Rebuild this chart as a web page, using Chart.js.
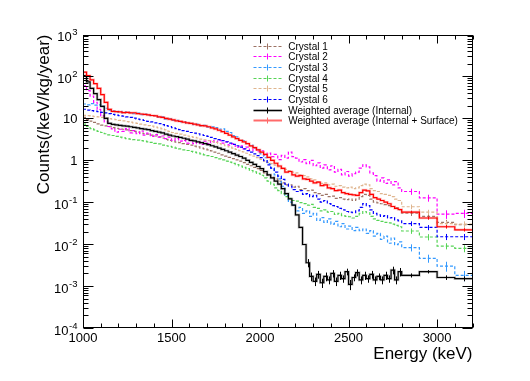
<!DOCTYPE html>
<html><head><meta charset="utf-8">
<script src="https://cdn.jsdelivr.net/npm/chart.js@4/dist/chart.umd.min.js"></script>
<style>html,body{margin:0;padding:0;background:#fff}</style>
</head><body>
<canvas id="c" width="530" height="381"></canvas>
<script>
// ---- bin edges (keV) ----
const binEdges = [
1000,1020,1040,1060,1080,1100,1120,1140,1160,1180,
1200,1220,1240,1260,1280,1300,1320,1340,1360,1380,
1400,1420,1440,1460,1480,1500,1520,1540,1560,1580,
1600,1620,1640,1660,1680,1700,1720,1740,1760,1780,
1800,1820,1840,1860,1880,1900,1920,1940,1960,1980,
2000,2020,2040,2060,2080,2100,2120,2140,2160,2180,
2200,2220,2240,2260,2280,2300,2320,2340,2360,2380,
2400,2420,2440,2460,2480,2500,2520,2540,2560,2580,
2600,2620,2640,2660,2680,2700,2720,2740,2760,2780,
2800,2900,3000,3100,3200];

// ---- Counts (/keV/kg/year), fine bins 1000-2800 keV ----
const crystal1 = [10.5,9.5,8.6,8.0,7.4,6.9,6.6,6.3,6.0,5.8, 5.6,5.5,5.3,5.1,4.9,4.7,4.45,4.3,4.2,4.0, 3.8,3.6,3.4,3.16,2.98,2.85,2.71,2.63,2.5,2.4, 2.31,2.18,2.09,1.96,1.87,1.78,1.67,1.57,1.47,1.35, 1.26,1.17,1.1,1.02,0.95,0.88,0.8,0.74,0.68,0.63, 0.57,0.5,0.44,0.39,0.36,0.32,0.29,0.26,0.26,0.23, 0.24,0.2,0.21,0.19,0.195,0.17,0.16,0.145,0.153,0.136, 0.14,0.123,0.128,0.119,0.115,0.119,0.11,0.119,0.136,0.153, 0.145,0.119,0.1,0.096,0.092,0.088,0.083,0.079,0.073,0.066];
const crystal2 = [60,46,34,24,16.4,11.4,8.2,6.4,5.6,4.7, 5.5,4.9,5.7,4.5,5.1,4.3,5.0,4.0,4.45,3.7, 4.1,3.56,3.8,3.3,3.56,3.0,3.3,2.85,3.0,2.58, 2.94,2.5,2.76,2.4,2.85,2.5,2.94,2.67,3.0,2.58, 2.76,2.31,2.5,2.05,2.22,1.87,2.05,1.69,1.87,1.6, 1.69,1.31,1.48,1.22,1.39,1.04,1.31,1.13,1.57,1.22, 1.13,0.91,1.04,0.83,1.0,0.74,0.87,0.65,0.78,0.59, 0.74,0.52,0.61,0.45,0.54,0.42,0.48,0.52,0.65,0.78, 0.7,0.5,0.43,0.32,0.38,0.28,0.34,0.26,0.31,0.22];
const crystal3 = [22,21,22.5,20.7,21,19.3,17.4,15.5,15,14.1, 14.6,13.5,14.2,13.7,13.0,13.3,12.3,12.7,11.8,11.6, 11.7,10.7,10.8,9.6,9.8,8.9,9.0,8.2,8.4,7.6, 7.7,7.1,7.3,6.6,6.8,6.2,6.3,6.0,5.5,5.6, 4.9,4.6,3.9,3.6,3.0,2.94,2.5,2.3,1.96,1.78, 1.42,1.15,0.83,0.65,0.45,0.36,0.24,0.145,0.1,0.085, 0.062,0.075,0.054,0.062,0.046,0.054,0.037,0.043,0.033,0.04, 0.03,0.035,0.026,0.031,0.023,0.027,0.021,0.025,0.021,0.023, 0.018,0.021,0.0156,0.018,0.013,0.0156,0.0105,0.014,0.0097,0.0113];
const crystal4 = [7.3,6.4,5.7,5.3,4.9,4.6,4.3,4.05,3.9,3.7, 3.56,3.43,3.3,3.2,3.1,3.03,2.94,2.85,2.76,2.67, 2.54,2.45,2.31,2.22,2.14,2.05,1.96,1.87,1.78,1.71, 1.64,1.57,1.5,1.42,1.35,1.29,1.23,1.16,1.08,1.02, 0.95,0.9,0.84,0.79,0.73,0.68,0.63,0.57,0.53,0.49, 0.44,0.38,0.32,0.27,0.22,0.19,0.16,0.136,0.123,0.11, 0.106,0.098,0.093,0.085,0.089,0.075,0.071,0.062,0.066,0.058, 0.06,0.051,0.054,0.048,0.046,0.045,0.042,0.046,0.054,0.06, 0.056,0.046,0.04,0.037,0.035,0.033,0.032,0.03,0.028,0.026];
const crystal5 = [11.8,11.6,11.3,11.0,10.8,10.6,10.2,9.9,9.6,9.3, 9.0,8.7,8.4,8.1,7.8,7.6,7.3,7.0,6.7,6.5, 6.2,5.9,5.6,5.3,4.9,4.6,4.4,4.2,4.0,3.8, 3.65,3.5,3.4,3.2,3.07,2.94,2.8,2.67,2.5,2.36, 2.22,2.09,1.96,1.82,1.69,1.58,1.47,1.35,1.25,1.16, 1.05,0.96,0.89,0.83,0.77,0.7,0.65,0.61,0.57,0.52, 0.5,0.45,0.43,0.4,0.36,0.34,0.31,0.28,0.29,0.26, 0.27,0.24,0.25,0.23,0.22,0.23,0.21,0.22,0.25,0.27, 0.26,0.21,0.19,0.18,0.16,0.153,0.145,0.136,0.119,0.11];
const crystal6 = [16.5,15.8,15.3,14.9,14.4,13.9,13.5,12.9,12.5,12.0, 11.6,11.3,10.9,10.5,10.1,9.6,9.3,8.9,8.5,8.2, 7.8,7.5,7.1,6.7,6.4,6.0,5.7,5.4,5.1,4.9, 4.6,4.45,4.3,4.05,3.9,3.7,3.5,3.3,3.1,2.94, 2.76,2.58,2.4,2.22,2.05,1.87,1.7,1.56,1.42,1.29, 1.16,0.98,0.78,0.65,0.52,0.42,0.35,0.27,0.24,0.2, 0.18,0.19,0.153,0.16,0.136,0.145,0.119,0.1,0.11,0.093, 0.083,0.079,0.071,0.066,0.06,0.058,0.056,0.062,0.075,0.093, 0.083,0.066,0.054,0.05,0.046,0.048,0.042,0.043,0.038,0.036];
const avgInternal = [104,74,52,39,28,19.3,10,7.6,7.2,7.0, 6.8,6.6,6.5,6.3,6.1,5.9,5.7,5.55,5.4,5.1, 4.9,4.7,4.5,4.2,4.0,3.8,3.65,3.5,3.35,3.2, 3.0,2.9,2.76,2.63,2.5,2.36,2.22,2.1,1.96,1.82, 1.69,1.56,1.44,1.33,1.23,1.12,1.0,0.89,0.8,0.71, 0.63,0.54,0.45,0.38,0.32,0.27,0.21,0.16,0.12,0.085, 0.05,0.025,0.0098,0.0036,0.0017,0.0013,0.0019,0.0012,0.0017,0.0014, 0.002,0.0013,0.0018,0.0015,0.0022,0.0011,0.0016,0.0021,0.0014,0.0018, 0.0015,0.0019,0.0014,0.0017,0.0014,0.0018,0.0015,0.0024,0.0014,0.0022];
const avgInternalSurface = [126,104,83,67,52,37,24,16.4,14.7,14.4, 14.2,13.7,13.9,13.5,13.6,12.9,12.7,12.4,12.1,11.7, 11.5,10.9,10.5,10.0,9.6,9.2,8.7,8.5,8.1,7.8, 7.6,7.3,7.0,6.7,6.6,6.3,5.9,5.6,5.2,4.8, 4.4,4.0,3.6,3.3,3.0,2.76,2.5,2.2,2.0,1.78, 1.56,1.38,1.17,1.0,0.85,0.73,0.64,0.52,0.54,0.45, 0.42,0.43,0.36,0.35,0.32,0.29,0.30,0.25,0.26,0.22, 0.21,0.19,0.195,0.17,0.16,0.153,0.149,0.145,0.17,0.195, 0.187,0.153,0.128,0.119,0.11,0.10,0.092,0.079,0.071,0.067];

// ---- coarse bins 2800-3200 keV (100 keV wide) ----
const crystal1Coarse = [0.055,0.046,0.033,0.029];
const crystal2Coarse = [0.18,0.127,0.052,0.054];
const crystal3Coarse = [0.0083,0.0046,0.003,0.0018];
const crystal4Coarse = [0.0206,0.0148,0.009,0.0079];
const crystal5Coarse = [0.078,0.058,0.031,0.030];
const crystal6Coarse = [0.031,0.025,0.015,0.015];
const avgInternalCoarse = [0.0018,0.0022,0.0016,0.0015];
const avgInternalSurfaceCoarse = [0.058,0.042,0.026,0.022];

// ---- errors of the coarse bins ----
const crystal1CoarseErr = [0.008,0.007,0.005,0.004];
const crystal2CoarseErr = [0.03,0.024,0.012,0.012];
const crystal3CoarseErr = [0.0016,0.001,0.0008,0.0005];
const crystal4CoarseErr = [0.003,0.0025,0.0015,0.0015];
const crystal5CoarseErr = [0.01,0.008,0.005,0.005];
const crystal6CoarseErr = [0.004,0.0035,0.0025,0.0025];
const avgInternalSurfaceCoarseErr = [0.004,0.0035,0.0025,0.002];
// errors of the internal average from 2260 keV on (fine tail + coarse)
const avgInternalTailErr = [0.0008,0.0004,0.0003,0.0004,0.0003,0.0004,0.0003,0.0004,0.0003,0.0004,0.0003,0.0004,0.0003,0.0003,0.0004,0.0003,0.0004,0.0003,0.0004,0.0003,0.0003,0.0003,0.0004,0.0003,0.0005,0.0003,0.0005, 0.0002,0.0002,0.0002,0.0002];

const xTickLabels = ['1000','1500','2000','2500','3000'];
const xTickValues = [1000,1500,2000,2500,3000];
const yDecades = [-4,-3,-2,-1,0,1,2,3];

const FONT = '"Liberation Sans", Arial, Helvetica, sans-serif';

const series = [
  {label:'Crystal 1', values:crystal1.concat(crystal1Coarse), color:'#9c7264', dash:[3,2], width:1.2, order:9, err:{start:90, values:crystal1CoarseErr}},
  {label:'Crystal 2', values:crystal2.concat(crystal2Coarse), color:'#ff00ff', dash:[3,2], width:1.2, order:8, err:{start:90, values:crystal2CoarseErr}},
  {label:'Crystal 3', values:crystal3.concat(crystal3Coarse), color:'#3399ff', dash:[3,2], width:1.2, order:7, err:{start:90, values:crystal3CoarseErr}},
  {label:'Crystal 4', values:crystal4.concat(crystal4Coarse), color:'#55d455', dash:[3,2], width:1.2, order:6, err:{start:90, values:crystal4CoarseErr}},
  {label:'Crystal 5', values:crystal5.concat(crystal5Coarse), color:'#dfb58e', dash:[3,2], width:1.2, order:5, err:{start:90, values:crystal5CoarseErr}},
  {label:'Crystal 6', values:crystal6.concat(crystal6Coarse), color:'#0000ff', dash:[3,2], width:1.2, order:4, err:{start:90, values:crystal6CoarseErr}},
  {label:'Weighted average (Internal)', values:avgInternal.concat(avgInternalCoarse), color:'#000000', dash:[], width:1.2, order:2, halo:'rgba(0,0,0,0.22)', err:{start:63, values:avgInternalTailErr}},
  {label:'Weighted average (Internal + Surface)', values:avgInternalSurface.concat(avgInternalSurfaceCoarse), color:'#ff0000', legendColor:'#ff6a6a', legendWidth:2, dash:[], width:1.2, order:0, halo:'rgba(255,110,110,0.4)', err:{start:90, values:avgInternalSurfaceCoarseErr}}
];

function stepData(vals){
  const pts = [];
  for (let k = 0; k < vals.length; k++) {
    pts.push({x:binEdges[k], y:vals[k]});
    pts.push({x:binEdges[k+1], y:vals[k]});
  }
  return pts;
}

const datasets = [];
series.forEach(s => {
  datasets.push({label:s.label, data:stepData(s.values), borderColor:s.color, borderWidth:s.width,
    borderDash:s.dash, pointRadius:0, tension:0, fill:false, order:s.order});
  if (s.halo) datasets.push({label:s.label+' band', data:stepData(s.values), borderColor:s.halo,
    borderWidth:2.6, pointRadius:0, tension:0, fill:false, order:s.order+1});
});

function line(ctx,x1,y1,x2,y2){ctx.beginPath();ctx.moveTo(x1,y1);ctx.lineTo(x2,y2);ctx.stroke();}

const rootPlugin = {
  id:'rootStyle',
  afterDatasetsDraw(chart){
    const {ctx, chartArea:a, scales:{x,y}} = chart;
    ctx.save();
    ctx.beginPath(); ctx.rect(a.left,a.top,a.right-a.left,a.bottom-a.top); ctx.clip();
    series.forEach(s => {
      ctx.strokeStyle = s.color; ctx.lineWidth = 1; ctx.setLineDash([]);
      s.err.values.forEach((e,j) => {
        const k = s.err.start + j, v = s.values[k];
        const xc = Math.round(x.getPixelForValue((binEdges[k]+binEdges[k+1])/2)) + 0.5;
        line(ctx, xc, y.getPixelForValue(v+e), xc, y.getPixelForValue(Math.max(v-e, 1e-5)));
      });
    });
    ctx.restore();
  },
  afterDraw(chart){
    const {ctx, chartArea:a, scales:{x,y}} = chart;
    ctx.save();
    ctx.strokeStyle = '#000'; ctx.fillStyle = '#000'; ctx.lineWidth = 1; ctx.setLineDash([]);
    const L = Math.round(a.left)+0.5, R = Math.round(a.right)-0.5, T = Math.round(a.top)+0.5, B = Math.round(a.bottom)-0.5;
    ctx.strokeRect(L, T, R-L, B-T);
    for (let v = 1000; v <= 3200; v += 100) {
      const px = Math.round(x.getPixelForValue(v))+0.5;
      const len = (v % 500 === 0) ? 8 : 4;
      line(ctx, px, B, px, B-len);
      line(ctx, px, T, px, T+len);
    }
    yDecades.forEach(e => {
      for (let m = 1; m <= 9; m++) {
        const v = m*Math.pow(10,e);
        if (v > 1000.0001) continue;
        const py = Math.round(y.getPixelForValue(v))+0.5;
        const len = (m === 1) ? 10 : 5;
        line(ctx, L, py, L+len, py);
        line(ctx, R, py, R-len, py);
      }
    });
    ctx.font = '13px '+FONT; ctx.textAlign = 'center'; ctx.textBaseline = 'alphabetic';
    xTickValues.forEach((v,i) => ctx.fillText(xTickLabels[i], x.getPixelForValue(v), 341.5));
    const RX = 77.5;
    yDecades.forEach(e => {
      const py = y.getPixelForValue(Math.pow(10,e));
      ctx.textAlign = 'right';
      if (e === 0 || e === 1) {
        ctx.font = '13px '+FONT;
        ctx.fillText(e === 0 ? '1' : '10', RX, py+4.7);
      } else {
        ctx.font = '9.5px '+FONT;
        const sup = String(e);
        const w = ctx.measureText(sup).width;
        ctx.fillText(sup, RX, py+0.5);
        ctx.font = '13px '+FONT;
        ctx.fillText('10', RX - w - 0.5, py+6.5);
      }
    });
    ctx.font = '17px '+FONT;
    ctx.textAlign = 'right'; ctx.textBaseline = 'alphabetic';
    ctx.fillText('Energy (keV)', a.right, 359);
    ctx.save();
    ctx.translate(49, a.top);
    ctx.rotate(-Math.PI/2);
    ctx.textAlign = 'right';
    ctx.fillText('Counts(/keV/kg/year)', 0, 0);
    ctx.restore();
    ctx.font = '10px '+FONT; ctx.textAlign = 'left'; ctx.textBaseline = 'middle';
    series.forEach((s,i) => {
      const yy = Math.round(45.7 + i*10.67) + 0.5;
      ctx.strokeStyle = s.legendColor || s.color;
      ctx.lineWidth = s.legendWidth || (s.dash.length ? 1.2 : 1.6);
      ctx.setLineDash(s.dash);
      line(ctx, 253.5, yy, 282, yy);
      ctx.setLineDash([]);
      ctx.lineWidth = 1;
      line(ctx, 267.5, yy-3, 267.5, yy+3);
      ctx.fillStyle = '#000';
      ctx.fillText(s.label, 288.3, yy+0.5);
    });
    ctx.restore();
  }
};

new Chart(document.getElementById('c'), {
  type:'line',
  data:{datasets},
  options:{
    responsive:false, animation:false, devicePixelRatio:1,
    layout:{padding:{left:83, right:57.5, top:34.5, bottom:53}},
    scales:{
      x:{type:'linear', min:1000, max:3200, display:false},
      y:{type:'logarithmic', min:1e-4, max:1e3, display:false}
    },
    plugins:{legend:{display:false}, tooltip:{enabled:false}},
    elements:{point:{radius:0}, line:{tension:0}}
  },
  plugins:[rootPlugin]
});
</script>
</body></html>
